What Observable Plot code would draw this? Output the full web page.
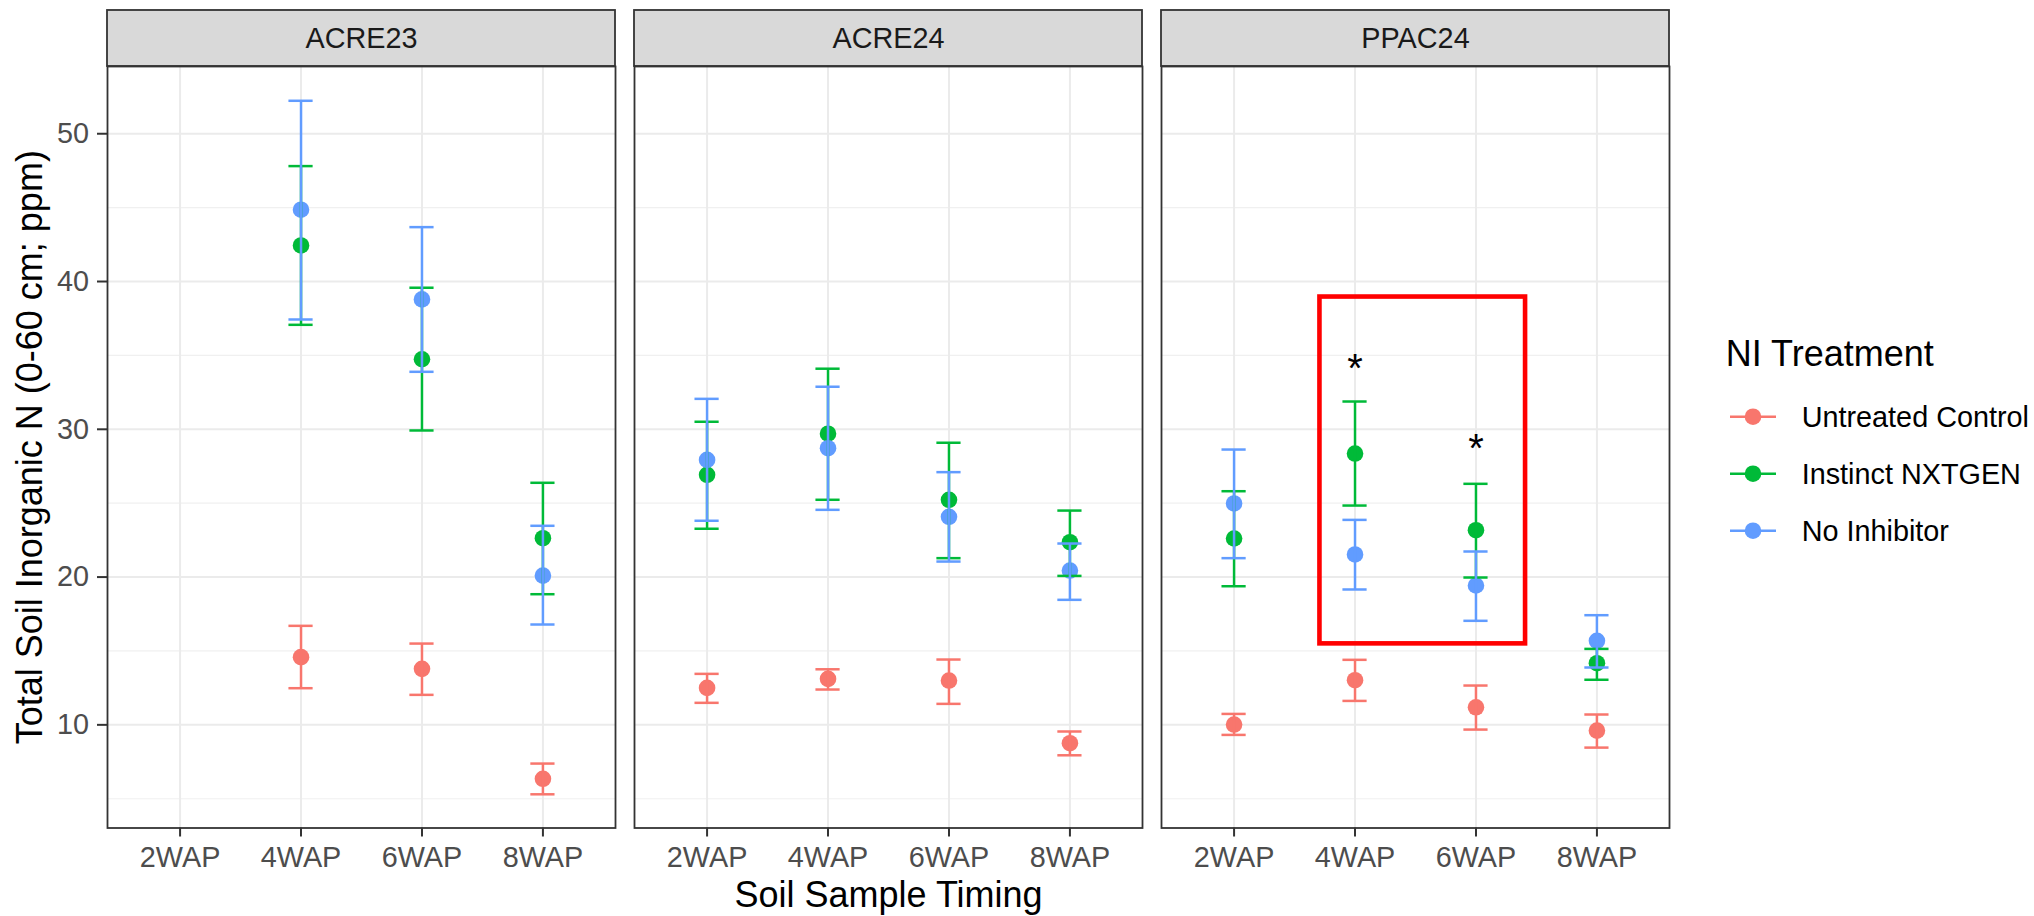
<!DOCTYPE html>
<html>
<head>
<meta charset="utf-8">
<script src="https://cdn.jsdelivr.net/npm/d3@7"></script>
<script src="https://cdn.jsdelivr.net/npm/@observablehq/plot@0.6"></script>
<style>
  body { margin: 0; background: #fff; }
  #wrap { position: relative; width: 2034px; height: 916px; font-family: "Liberation Sans", Arial, sans-serif; background: #fff; }
  #chart { position: absolute; left: 0; top: 0; }
  #legend { position: absolute; left: 1680px; top: 0; font-family: "Liberation Sans", Arial, sans-serif; }
</style>
</head>
<body>
<div id="wrap"><div id="chart"></div><svg id="legend" width="354" height="916"></svg></div>
<script>
// ---- data ----
const sites = ["ACRE23", "ACRE24", "PPAC24"];
const timings = ["2WAP", "4WAP", "6WAP", "8WAP"];
const treatments = ["Untreated Control", "Instinct NXTGEN", "No Inhibitor"];
const colors = ["#F8766D", "#00BA38", "#619CFF"];
const yTicks = [10, 20, 30, 40, 50];
const yMinor = [5, 15, 25, 35, 45];

// values ordered site x timing (ACRE23 2..8WAP, ACRE24 2..8WAP, PPAC24 2..8WAP)
const meanControl  = [null, 14.58, 13.79, 6.35,  12.50, 13.11, 13.00, 8.76,  10.02, 13.02, 11.19, 9.61];
const lowerControl = [null, 12.48, 12.03, 5.30,  11.49, 12.39, 11.42, 7.94,   9.32, 11.62,  9.68, 8.46];
const upperControl = [null, 16.70, 15.50, 7.38,  13.45, 13.76, 14.42, 9.55,  10.74, 14.40, 12.66, 10.70];

const meanNxtgen   = [null, 42.44, 34.74, 22.63, 26.92, 29.70, 25.23, 22.36, 22.61, 28.36, 23.17, 14.17];
const lowerNxtgen  = [null, 37.07, 29.92, 18.84, 23.27, 25.23, 21.28, 20.08, 19.38, 24.84, 19.97, 13.05];
const upperNxtgen  = [null, 47.81, 39.58, 26.38, 30.51, 34.10, 29.09, 24.50, 25.81, 31.88, 26.31, 15.14];

const meanNoInh    = [null, 44.86, 38.79, 20.10, 27.93, 28.72, 24.08, 20.44, 24.98, 21.53, 19.43, 15.69];
const lowerNoInh   = [null, 37.43, 33.89, 16.79, 23.81, 24.55, 21.05, 18.46, 21.28, 19.16, 17.04, 13.88];
const upperNoInh   = [null, 52.23, 43.68, 23.47, 32.06, 32.88, 27.10, 22.27, 28.63, 23.87, 21.73, 17.42];

// significance marks and highlight box (PPAC24)
const starSite = ["PPAC24", "PPAC24"];
const starTiming = [1, 2];
const starY = [34.77, 29.36];
const boxSite = ["PPAC24"];
const boxX = [[0.71, 2.41]];
const boxY = [[15.48, 38.95]];

const yTitle = "Total Soil Inorganic N (0-60 cm; ppm)";
const xTitle = "Soil Sample Timing";

// ---- build table ----
const means = [meanControl, meanNxtgen, meanNoInh];
const lowers = [lowerControl, lowerNxtgen, lowerNoInh];
const uppers = [upperControl, upperNxtgen, upperNoInh];
const rows = [];
treatments.forEach((trt, k) => {
  sites.forEach((site, si) => {
    timings.forEach((tm, ti) => {
      const i = si * timings.length + ti;
      if (means[k][i] == null) return;
      rows.push({site, xi: ti, trt, mean: means[k][i], lo: lowers[k][i], hi: uppers[k][i]});
    });
  });
});
const stars = starSite.map((s, i) => ({site: s, xi: starTiming[i], y: starY[i]}));
const boxes = boxSite.map((s, i) => ({site: s, x1: boxX[i][0], x2: boxX[i][1], y1: boxY[i][0], y2: boxY[i][1]}));
const xIdx = timings.map((d, i) => i);

const xDom = [-0.6, timings.length - 1 + 0.6];
const yDom = [3.02, 54.55];
const stripH = 3.79;
const capHalf = 0.1;

const errMarks = [];
treatments.forEach((trt) => {
  const sub = rows.filter(r => r.trt === trt);
  errMarks.push(
    Plot.ruleX(sub, {fx: "site", x: "xi", y1: "lo", y2: "hi", stroke: "trt", strokeWidth: 2.5}),
    Plot.ruleY(sub, {fx: "site", y: "hi", x1: d => d.xi - capHalf, x2: d => d.xi + capHalf, stroke: "trt", strokeWidth: 2.5}),
    Plot.ruleY(sub, {fx: "site", y: "lo", x1: d => d.xi - capHalf, x2: d => d.xi + capHalf, stroke: "trt", strokeWidth: 2.5})
  );
});

const chart = Plot.plot({
  width: 1680,
  height: 916,
  marginLeft: 106.7,
  marginRight: 10.3,
  marginTop: 66,
  marginBottom: 88.5,
  style: {fontFamily: "Liberation Sans, Arial, sans-serif", fontSize: "28.8px", background: "white", color: "black"},
  fx: {domain: sites, paddingInner: 0.036, paddingOuter: 0, axis: null, label: null},
  x: {domain: xDom, axis: null, label: null},
  y: {domain: yDom, axis: null, label: null},
  color: {domain: treatments, range: colors},
  marks: [
    Plot.gridY(yMinor, {stroke: "#f0f0f0", strokeOpacity: 1, strokeWidth: 1.2}),
    Plot.gridY(yTicks, {stroke: "#ebebeb", strokeOpacity: 1, strokeWidth: 2}),
    Plot.gridX(xIdx, {stroke: "#ebebeb", strokeOpacity: 1, strokeWidth: 2}),
    Plot.rect(sites, {fx: d => d, x1: () => xDom[0], x2: () => xDom[1], y1: () => yDom[1], y2: () => yDom[1] + stripH, fill: "#d9d9d9", stroke: "#333333", strokeWidth: 1.8}),
    Plot.text(sites, {fx: d => d, frameAnchor: "top", lineAnchor: "middle", textAnchor: "middle", dy: -28, text: d => d, fill: "#1a1a1a"}),
    Plot.dot(rows, {fx: "site", x: "xi", y: "mean", fill: "trt", r: 8.3}),
    ...errMarks,
    Plot.rect(boxes, {fx: "site", x1: "x1", x2: "x2", y1: "y1", y2: "y2", fill: "none", stroke: "#ff0000", strokeWidth: 4.6}),
    Plot.text(stars, {fx: "site", x: "xi", y: "y", text: () => "*", fontSize: 40, dy: 10, fill: "black"}),
    Plot.axisX(xIdx, {tickFormat: i => timings[i], tickSize: 9, tickPadding: 9.5, color: "#4d4d4d", stroke: "#333333", strokeWidth: 2, label: null}),
    Plot.axisY(yTicks, {tickSize: 10, tickPadding: 8.5, color: "#4d4d4d", stroke: "#333333", strokeWidth: 2, label: null}),
    Plot.text([yTitle], {fx: () => sites[0], frameAnchor: "left", textAnchor: "middle", lineAnchor: "middle", dx: -76.7, rotate: -90, text: d => d, fontSize: 36, fill: "black"}),
    Plot.text([xTitle], {fx: () => sites[1], frameAnchor: "bottom", textAnchor: "middle", lineAnchor: "middle", dy: 67.5, text: d => d, fontSize: 36, fill: "black"}),
    Plot.frame({stroke: "#333333", strokeWidth: 1.8})
  ]
});
document.getElementById("chart").appendChild(chart);

// ---- legend ----
const lg = d3.select("#legend");
lg.append("text").attr("x", 45.7).attr("y", 365.7).attr("font-size", 36).attr("fill", "black").text("NI Treatment");
treatments.forEach((t, i) => {
  const cy = 416.7 + i * 57;
  lg.append("line").attr("x1", 50).attr("x2", 96).attr("y1", cy).attr("y2", cy)
    .attr("stroke", colors[i]).attr("stroke-width", 2.5);
  lg.append("circle").attr("cx", 73).attr("cy", cy).attr("r", 8.3).attr("fill", colors[i]);
  lg.append("text").attr("x", 121.7).attr("y", cy + 10.3).attr("font-size", 28.8).attr("fill", "black").text(t);
});
</script>
</body>
</html>
